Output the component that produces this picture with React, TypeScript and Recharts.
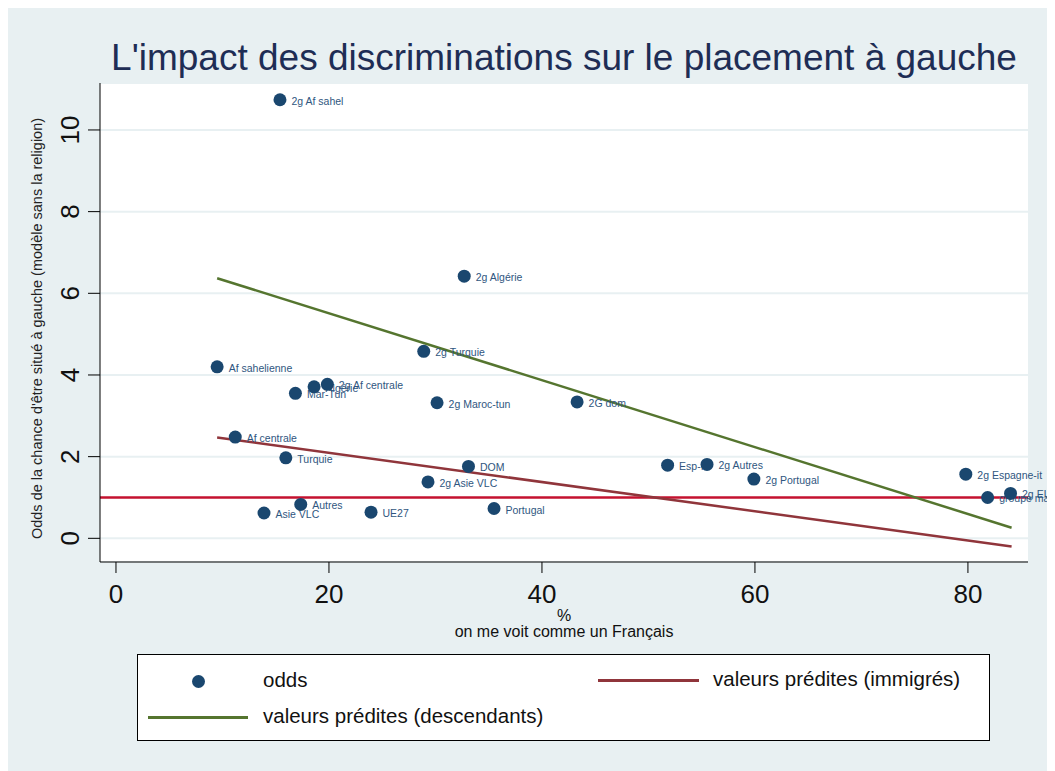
import React from "react";
import {
  ScatterChart,
  Scatter,
  XAxis,
  YAxis,
  CartesianGrid,
  ReferenceLine,
} from "recharts";

// groupes d'origine, % "on me voit comme un Français", odds
const groups = [
  "2g Af sahel",
  "2g Algérie",
  "2g Turquie",
  "Af sahelienne",
  "Algérie",
  "2g Af centrale",
  "Mar-Tun",
  "2g Maroc-tun",
  "2G dom",
  "Af centrale",
  "Turquie",
  "DOM",
  "Esp-It",
  "2g Autres",
  "2g Portugal",
  "2g Espagne-it",
  "groupe majoritaire",
  "2g EU27",
  "2g Asie VLC",
  "Autres",
  "Asie VLC",
  "UE27",
  "Portugal",
];
const pctFrancais = [
  15.4, 32.7, 28.9, 9.5, 18.6, 19.85, 16.85, 30.15, 43.3, 11.2, 15.95, 33.1,
  51.8, 55.5, 59.9, 79.8, 81.85, 84.0, 29.3, 17.35, 13.9, 23.95, 35.5,
];
const odds = [
  10.74, 6.42, 4.58, 4.2, 3.71, 3.77, 3.55, 3.32, 3.34, 2.48, 1.97, 1.76,
  1.79, 1.81, 1.45, 1.57, 1.0, 1.1, 1.38, 0.83, 0.62, 0.64, 0.73,
];

// valeurs prédites (droites de régression)
const fitX = [9.5, 84.1];
const fitDescendants = [6.37, 0.26];
const fitImmigres = [2.47, -0.2];

const xTicks = [0, 20, 40, 60, 80];
const yTicks = [0, 2, 4, 6, 8, 10];

const points = groups.map((name, i) => ({
  name,
  x: pctFrancais[i],
  y: odds[i],
}));
const descLine = fitX.map((x, i) => ({ x, y: fitDescendants[i] }));
const immLine = fitX.map((x, i) => ({ x, y: fitImmigres[i] }));

const FONT = '"Liberation Sans", Arial, Helvetica, sans-serif';
const NAVY = "#1a476f";
const BG = "#e8f0f2";

const YTick = (props: any) => {
  const { x, y, payload } = props;
  return (
    <text
      transform={`translate(${x - 16},${y}) rotate(-90)`}
      textAnchor="middle"
      dominantBaseline="central"
      fontSize={26}
      fontFamily={FONT}
      fill="#111"
    >
      {payload.value}
    </text>
  );
};

const YLabel = (props: any) => {
  const vb = props.viewBox;
  const cy = vb.y + vb.height / 2 + 6;
  return (
    <text
      transform={`translate(28.5,${cy}) rotate(-90)`}
      textAnchor="middle"
      dominantBaseline="central"
      fontSize={14.5}
      fontFamily={FONT}
      fill="#222"
    >
      Odds de la chance d'être situé à gauche (modèle sans la religion)
    </text>
  );
};

const XLabel = (props: any) => {
  const vb = props.viewBox;
  const cx = vb.x + vb.width / 2;
  return (
    <g fontFamily={FONT} fill="#111" textAnchor="middle">
      <text x={cx} y={vb.y + 53} dominantBaseline="central" fontSize={16}>
        %
      </text>
      <text x={cx} y={vb.y + 69} dominantBaseline="central" fontSize={16}>
        on me voit comme un Français
      </text>
    </g>
  );
};

const Dot = (props: any) => (
  <circle cx={props.cx} cy={props.cy} r={6.5} fill={NAVY} />
);

const PointLabel = (props: any) => (
  <text
    x={props.cx + 11.5}
    y={props.cy + 1}
    dominantBaseline="central"
    fontSize={10.5}
    fontFamily={FONT}
    fill="#2f5680"
  >
    {props.payload.name}
  </text>
);

const Empty = () => <g />;

export default function App() {
  return (
    <div
      style={{
        position: "relative",
        width: 1047,
        height: 763,
        background: BG,
        fontFamily: FONT,
      }}
    >
      <div
        style={{
          position: "absolute",
          left: 556,
          top: 31,
          transform: "translateX(-50%)",
          whiteSpace: "nowrap",
          fontSize: 37,
          lineHeight: "37px",
          color: "#1e2d55",
        }}
      >
        L'impact des discriminations sur le placement à gauche
      </div>

      <ScatterChart
        width={1047}
        height={763}
        margin={{ top: 75, right: 27, left: 0, bottom: 0 }}
        style={{ position: "absolute", left: 0, top: 0 }}
      >
        <CartesianGrid
          vertical={false}
          fill="#ffffff"
          stroke={BG}
          strokeWidth={2}
        />
        <XAxis
          type="number"
          dataKey="x"
          domain={[-1.5, 85.64]}
          ticks={xTicks}
          height={209}
          tickSize={11}
          tickMargin={12}
          axisLine={{ stroke: "#000" }}
          tickLine={{ stroke: "#000" }}
          tick={{ fontSize: 26, fill: "#111", fontFamily: FONT }}
          label={<XLabel />}
        />
        <YAxis
          type="number"
          dataKey="y"
          domain={[-0.58, 11.15]}
          ticks={yTicks}
          width={92}
          tickSize={12}
          axisLine={{ stroke: "#000" }}
          tickLine={{ stroke: "#000" }}
          tick={<YTick />}
          label={<YLabel />}
        />
        <ReferenceLine y={1} stroke="#c4122f" strokeWidth={2.5} />
        <Scatter
          data={descLine}
          line={{ stroke: "#55752f", strokeWidth: 2.5 }}
          shape={<Empty />}
          isAnimationActive={false}
        />
        <Scatter
          data={immLine}
          line={{ stroke: "#90353b", strokeWidth: 2.5 }}
          shape={<Empty />}
          isAnimationActive={false}
        />
        <Scatter data={points} shape={<PointLabel />} isAnimationActive={false} />
        <Scatter data={points} shape={<Dot />} isAnimationActive={false} />
      </ScatterChart>

      {/* légende */}
      <div
        style={{
          position: "absolute",
          left: 129,
          top: 646,
          width: 851,
          height: 85,
          background: "#fff",
          border: "1px solid #000",
          fontSize: 20.5,
          color: "#111",
        }}
      >
        <div
          style={{
            position: "absolute",
            left: 53.5,
            top: 19.5,
            width: 13,
            height: 13,
            borderRadius: "50%",
            background: NAVY,
          }}
        />
        <div style={{ position: "absolute", left: 125, top: 13, lineHeight: "24px" }}>
          odds
        </div>
        <div
          style={{
            position: "absolute",
            left: 460,
            top: 23.5,
            width: 101,
            height: 3,
            background: "#90353b",
          }}
        />
        <div style={{ position: "absolute", left: 575, top: 12, lineHeight: "24px" }}>
          valeurs prédites (immigrés)
        </div>
        <div
          style={{
            position: "absolute",
            left: 10,
            top: 61,
            width: 100,
            height: 3,
            background: "#55752f",
          }}
        />
        <div style={{ position: "absolute", left: 125, top: 49, lineHeight: "24px" }}>
          valeurs prédites (descendants)
        </div>
      </div>
    </div>
  );
}
